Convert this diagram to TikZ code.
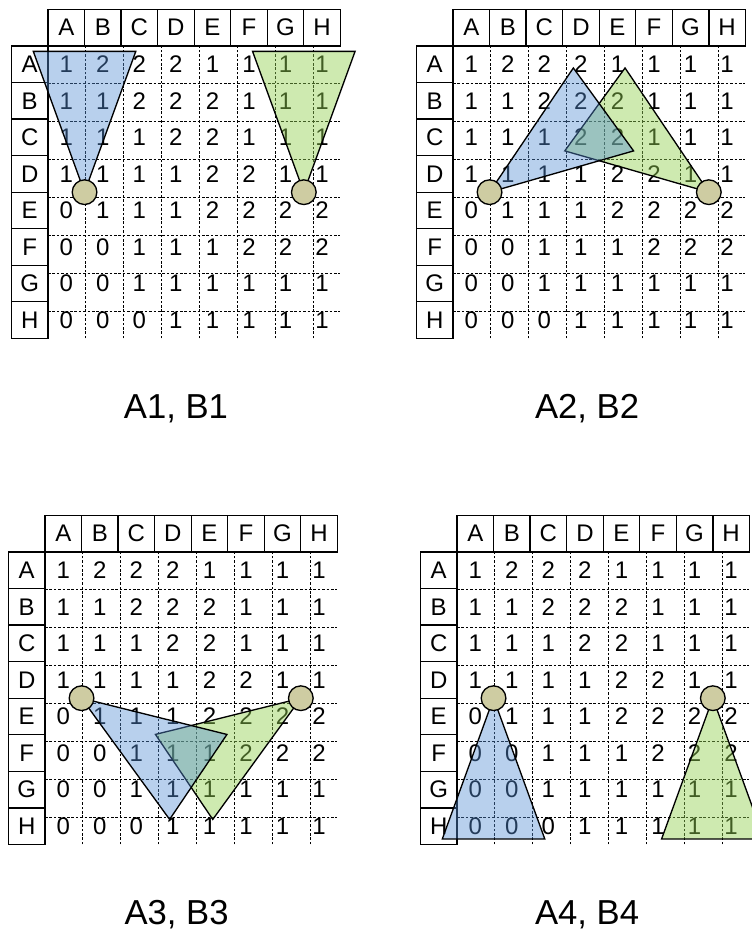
\documentclass[tikz,border=0pt]{standalone}
\usepackage{fontspec}
\setmainfont{Liberation Sans}
\usepackage{xcolor}
\usepackage{tikz}
\usetikzlibrary{positioning}

\definecolor{fovblue}{RGB}{85,142,213}
\definecolor{fovgreen}{RGB}{146,208,80}
\definecolor{camfill}{RGB}{206,204,162}

\begin{document}
\begin{tikzpicture}[
    x=0.75pt, y=0.75pt,
    hdr/.style={rectangle, draw=black, line width=1pt, minimum size=27.41pt,
                inner sep=0pt, font=\fontsize{18}{18}\selectfont},
    val/.style={inner sep=0pt, font=\fontsize{18}{18}\selectfont},
    gridline/.style={draw=black, line width=0.8pt, dash pattern=on 2pt off 1.3pt},
    fovb/.style={draw=black, line width=1pt, fill=fovblue, fill opacity=0.42},
    fovg/.style={draw=black, line width=1pt, fill=fovgreen, fill opacity=0.45},
    cam/.style={circle, draw=black, line width=1pt, fill=camfill,
                minimum size=18.5pt, inner sep=0pt},
    caption/.style={font=\fontsize{26}{26}\selectfont, anchor=base}
]
\useasboundingbox (0,0) rectangle (752,-932);
\clip (0,0) rectangle (752,-932);

% one panel per case: grid corner, caption x, blue and green view directions
\foreach \gx/\gy/\lx/\db/\dg/\lbl [count=\k] in {
    48/46/3.5/90/90/{A1, B1},
    453/46/3.67/36/144/{A2, B2},
    45/552/3.6/-34/214/{A3, B3},
    457/552/3.56/-90/-90/{A4, B4}} {
  \begin{scope}[shift={(\gx,-\gy)}, x=27.41pt, y=27.41pt]
    % headers
    \foreach \h [count=\i from 0] in {A,...,H} {
      \node[hdr] (top\k\h) at (\i+0.5,0.5) {\h};
      \node[hdr] (side\k\h) at (-0.5,-\i-0.5) {\h};
    }
    \draw[gridline] (0,0) grid (8,-8);
    % values
    \foreach \vals [count=\r from 0] in {{1,2,2,2,1,1,1,1},{1,1,2,2,2,1,1,1},
        {1,1,1,2,2,1,1,1},{1,1,1,1,2,2,1,1},{0,1,1,1,2,2,2,2},
        {0,0,1,1,1,2,2,2},{0,0,1,1,1,1,1,1},{0,0,0,1,1,1,1,1}}
      \foreach \v [count=\c from 0] in \vals
        \node[val] (v\k-\r-\c) at (\c+0.5,-\r-0.5) {\v};
    % view cones
    \coordinate (eyeB\k) at (1,-4);
    \coordinate (eyeG\k) at (7,-4);
    \draw[fovg] (eyeG\k) -- +(\dg+20:4.1) -- +(\dg-20:4.1) -- cycle;
    \draw[fovb] (eyeB\k) -- +(\db+20:4.1) -- +(\db-20:4.1) -- cycle;
    \node[cam] (camB\k) at (eyeB\k) {};
    \node[cam] (camG\k) at (eyeG\k) {};
    \node[caption] (lbl\k) at (\lx,-10.2) {\lbl};
  \end{scope}
}

\end{tikzpicture}
\end{document}
